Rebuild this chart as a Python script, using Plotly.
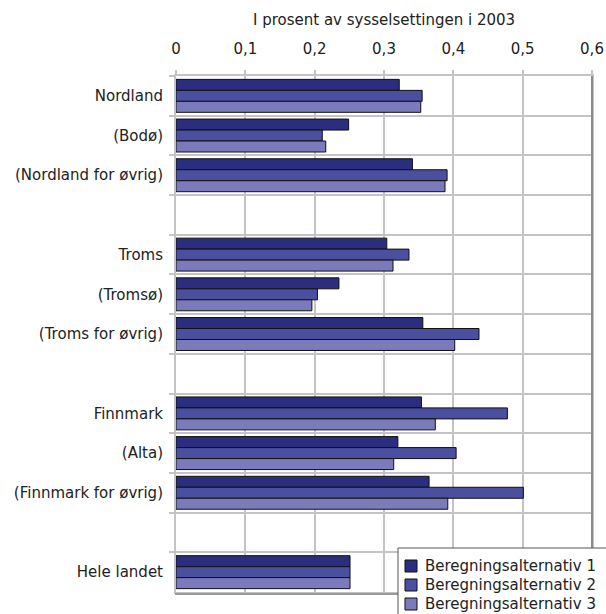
import plotly.graph_objects as go

categories = ["Nordland", "(Bodø)", "(Nordland for øvrig)", " ",
              "Troms", "(Tromsø)", "(Troms for øvrig)", "  ",
              "Finnmark", "(Alta)", "(Finnmark for øvrig)", "   ",
              "Hele landet"]
series_names = ["Beregningsalternativ 1", "Beregningsalternativ 2", "Beregningsalternativ 3"]
alt1 = [0.322, 0.249, 0.341, None, 0.304, 0.235, 0.356, None, 0.354, 0.320, 0.365, None, 0.251]
alt2 = [0.355, 0.211, 0.391, None, 0.336, 0.204, 0.437, None, 0.478, 0.404, 0.501, None, 0.251]
alt3 = [0.353, 0.216, 0.388, None, 0.313, 0.196, 0.402, None, 0.374, 0.314, 0.392, None, 0.251]
colors = ["#2b2e7e", "#4a4fa0", "#7b7bbb"]
x_title = "I prosent av sysselsettingen i 2003"

W, H = 606, 614
L, R, T, B = 176, 14, 76, 22
PW, PH = W - L - R, H - T - B


def px(xp):
    return (xp - L) / PW


def py(yp):
    return (H - B - yp) / PH


fig = go.Figure()
for name, vals, col in zip(series_names, [alt1, alt2, alt3], colors):
    fig.add_trace(go.Bar(
        y=categories, x=vals, name=name, orientation="h",
        marker=dict(color=col, line=dict(color="#111111", width=1)),
        showlegend=False,
    ))

font = "DejaVu Sans, sans-serif"
txt = "#222222"

# darker right / bottom frame edges of the plot area
shapes = [
    dict(type="line", xref="paper", yref="paper", x0=px(592), x1=px(592),
         y0=py(594), y1=1, line=dict(color="#8c8c8c", width=2), layer="above"),
    dict(type="line", xref="paper", yref="paper", x0=px(175), x1=px(593),
         y0=py(594), y1=py(594), line=dict(color="#9a9a9a", width=2), layer="above"),
]
# legend box (cut off at the bottom-right corner, as in the reference)
shapes.append(dict(type="rect", xref="paper", yref="paper",
                   x0=px(398), x1=px(612), y0=py(620), y1=py(548),
                   line=dict(color="#555555", width=1), fillcolor="white", layer="above"))
annotations = [dict(text=x_title, xref="paper", yref="paper",
                    x=0.5, y=1.0, yshift=56, showarrow=False,
                    xanchor="center", yanchor="middle",
                    font=dict(size=15, color=txt))]
for i, (name, col) in enumerate(zip(series_names, colors)):
    cy = 566 + i * 19
    shapes.append(dict(type="rect", xref="paper", yref="paper",
                       x0=px(405), x1=px(417), y0=py(cy + 6), y1=py(cy - 6),
                       line=dict(color="#111111", width=1), fillcolor=col, layer="above"))
    annotations.append(dict(text=name, xref="paper", yref="paper",
                            x=px(423), y=py(cy), showarrow=False,
                            xanchor="left", yanchor="middle",
                            height=18, valign="middle",
                            font=dict(size=15, color=txt)))

fig.update_layout(
    width=W, height=H,
    margin=dict(l=L, r=R, t=T, b=B, autoexpand=False),
    paper_bgcolor="white", plot_bgcolor="white",
    barmode="group", bargap=0.17, bargroupgap=0,
    separators=", ",
    font=dict(family=font, size=15, color=txt),
    showlegend=False,
    shapes=shapes,
    annotations=annotations,
)
fig.update_xaxes(
    side="top", range=[0, 0.6], dtick=0.1, tick0=0,
    showgrid=True, gridcolor="#c4c4c4", gridwidth=2,
    showline=True, linecolor="#c4c4c4", linewidth=2, mirror=True,
    ticks="outside", ticklen=4, tickcolor="#c4c4c4", tickwidth=2,
    zeroline=False, ticklabelstandoff=10,
    tickfont=dict(size=15, color=txt),
)
fig.update_yaxes(
    autorange="reversed", type="category", tickson="boundaries",
    showgrid=True, gridcolor="#c4c4c4", gridwidth=2,
    showline=True, linecolor="#c4c4c4", linewidth=2, mirror=True,
    ticks="outside", ticklen=5, tickcolor="#c4c4c4", tickwidth=2,
    ticklabelstandoff=8,
    tickfont=dict(size=15, color=txt),
)
fig.write_html("out.html", config={"displayModeBar": False},
               post_script="document.body.style.margin='0';")
